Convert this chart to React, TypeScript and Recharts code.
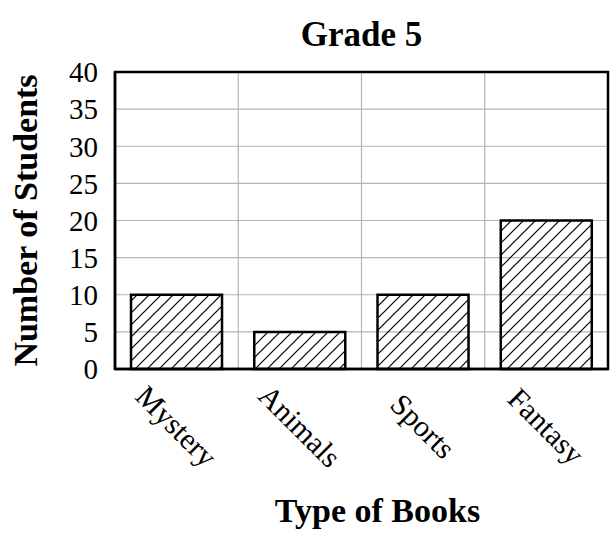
import React from "react";
import { BarChart, Bar, XAxis, YAxis, CartesianGrid, Label, ReferenceArea } from "recharts";

// Chart values.
const categories = ["Mystery", "Animals", "Sports", "Fantasy"];
const students = [10, 5, 10, 20];
const yTicks = [0, 5, 10, 15, 20, 25, 30, 35, 40];

const data = categories.map((name, i) => ({ name, students: students[i] }));

const FONT = "'Liberation Serif', 'Times New Roman', serif";
const INK = "#000000";
const GRID = "#b4b4b4";
const FRAME = 2.5;

function CategoryTick({ x, y, payload }: { x?: number; y?: number; payload?: { value: string } }) {
  return (
    <text
      transform={`translate(${x},${(y ?? 0) + 57}) rotate(45)`}
      textAnchor="middle"
      dominantBaseline="central"
      fontFamily={FONT}
      fontSize={30}
      fill={INK}
    >
      {payload?.value}
    </text>
  );
}

// Vertical grid lines sit on the category boundaries, not the band centres
// (the category axis has no padding, so the bands split the plot evenly).
const boundaryLines = (props: any) => {
  const off = props?.offset;
  if (!off || typeof off.left !== "number" || typeof off.width !== "number") return [];
  const n = categories.length;
  return categories.slice(1).map((_, i) => off.left + (off.width * (i + 1)) / n);
};

export default function App() {
  return (
    <div style={{ position: "absolute", left: 0, top: 0, width: 613, height: 535, background: "#fff" }}>
      {/* hatch fill for the bars */}
      <svg width={0} height={0} style={{ position: "absolute" }}>
        <defs>
          <pattern id="hatch" patternUnits="userSpaceOnUse" width={12} height={12}>
            <path d="M0,12 L12,0 M-3,3 L3,-3 M9,15 L15,9" stroke={INK} strokeWidth={1.2} />
          </pattern>
        </defs>
      </svg>
      <div
        style={{
          position: "absolute", left: 115, top: 14, width: 493, textAlign: "center",
          fontFamily: FONT, fontSize: 35, fontWeight: "bold", lineHeight: "42px", color: INK,
        }}
      >
        Grade 5
      </div>
      <BarChart width={613} height={535} data={data} margin={{ top: 72, right: 5, bottom: 0, left: 0 }} barCategoryGap="13%">
        <CartesianGrid stroke={GRID} strokeWidth={1.2} verticalCoordinatesGenerator={boundaryLines} />
        <XAxis
          dataKey="name"
          height={166}
          interval={0}
          tickSize={0}
          tickMargin={0}
          tickLine={false}
          axisLine={{ stroke: INK, strokeWidth: FRAME }}
          tick={<CategoryTick />}
        >
          <Label
            content={(p: any) => {
              const vb = p.viewBox || {};
              return (
                <text x={vb.x + vb.width / 2 + 16} y={vb.y + 153} textAnchor="middle" fontFamily={FONT} fontSize={34} fontWeight="bold" fill={INK}>
                  Type of Books
                </text>
              );
            }}
          />
        </XAxis>
        <YAxis
          width={115}
          domain={[0, 40]}
          ticks={yTicks}
          interval={0}
          tickSize={0}
          tickMargin={17}
          tickLine={false}
          axisLine={{ stroke: INK, strokeWidth: FRAME }}
          tick={{ fill: INK, fontSize: 29, fontFamily: FONT }}
        >
          <Label
            content={(p: any) => {
              const vb = p.viewBox || {};
              const cx = vb.x + 25;
              const cy = vb.y + vb.height / 2;
              return (
                <text x={cx} y={cy} transform={`rotate(-90 ${cx} ${cy})`} textAnchor="middle" dominantBaseline="central" fontFamily={FONT} fontSize={34} fontWeight="bold" fill={INK}>
                  Number of Students
                </text>
              );
            }}
          />
        </YAxis>
        <Bar dataKey="students" fill="url(#hatch)" stroke={INK} strokeWidth={2.5} isAnimationActive={false} />
        {/* plot frame */}
        <ReferenceArea y1={0} y2={40} fill="none" fillOpacity={0} stroke={INK} strokeWidth={FRAME} strokeOpacity={1} ifOverflow="visible" />
      </BarChart>
    </div>
  );
}
